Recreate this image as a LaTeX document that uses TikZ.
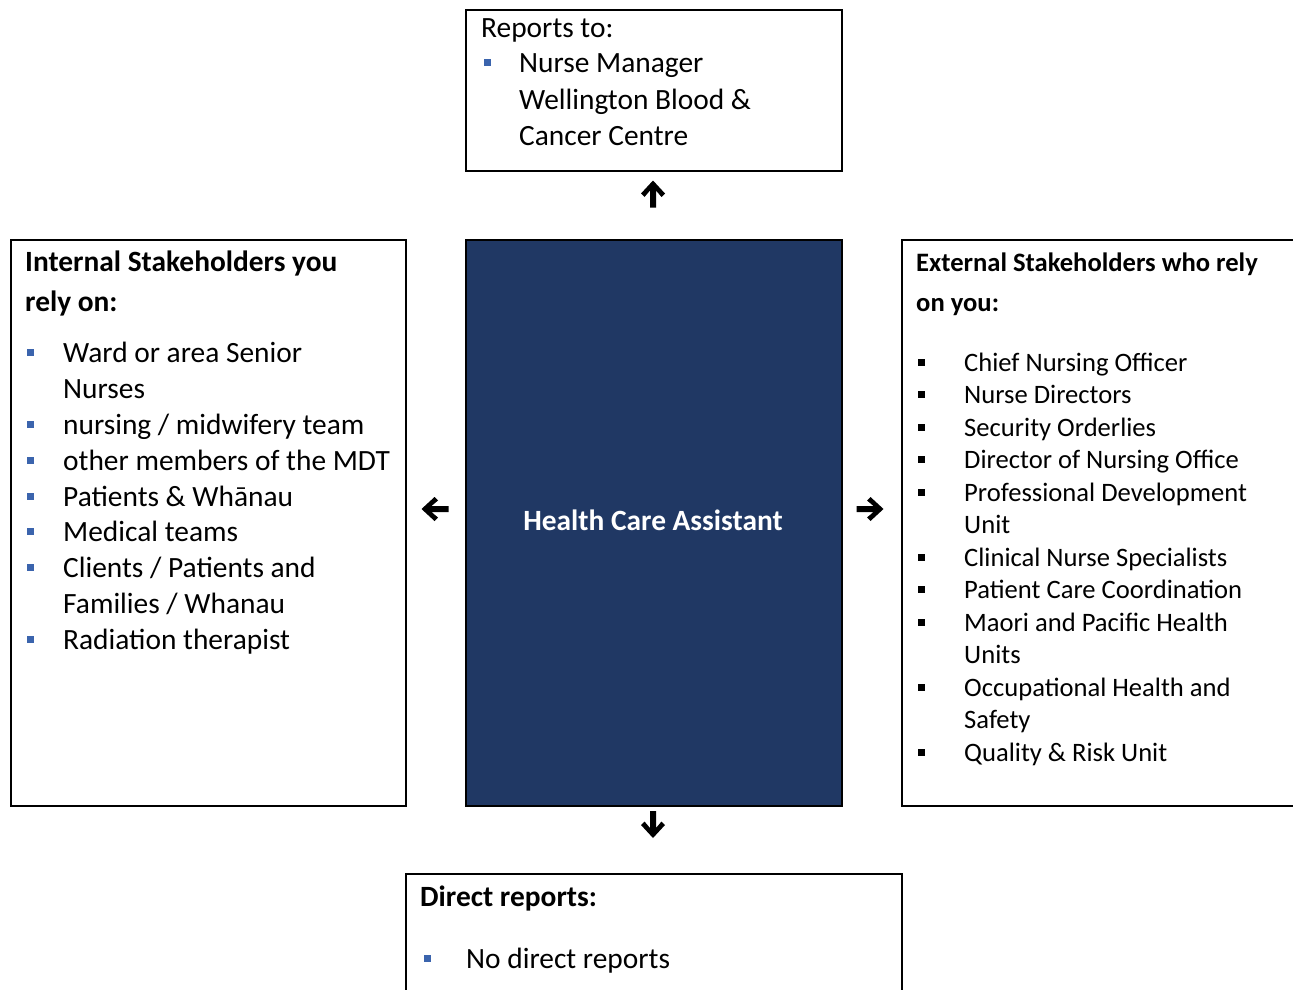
\documentclass[tikz,border=0pt]{standalone}
\usepackage{fontspec}
\setmainfont{Carlito}
\definecolor{navy}{HTML}{203864}
\definecolor{bltblue}{HTML}{3B64AD}
\begin{document}
\begin{tikzpicture}[x=1pt,y=-1pt,
  box/.style={draw=black, line width=2pt, rectangle, inner sep=0pt, anchor=north west},
  txt/.style={anchor=base west, inner sep=0pt, font=\fontsize{29.4}{36}\selectfont},
  txb/.style={anchor=base west, inner sep=0pt, font=\fontsize{29.4}{36}\selectfont\bfseries},
  txs/.style={anchor=base west, inner sep=0pt, font=\fontsize{26.6}{32}\selectfont},
  txsb/.style={anchor=base west, inner sep=0pt, font=\fontsize{26.6}{32}\selectfont\bfseries},
  bltb/.style={fill=bltblue, draw=none, rectangle, minimum size=7pt, inner sep=0pt},
  bltk/.style={fill=black, draw=none, rectangle, minimum size=7pt, inner sep=0pt},
  barrow/.pic={\fill[black] (13.5,0) -- (0.5,12) -- (-3,8.5) -- (3.5,3) -- (-13.5,3) -- (-13.5,-3) -- (3.5,-3) -- (-3,-8.5) -- (0.5,-12) -- cycle;}
]
\useasboundingbox (0,0) rectangle (1293,990);
\clip (0,0) rectangle (1293,990);

% boxes
\node[box, minimum width=376, minimum height=160] (top) at (465,9.5) {};
\node[box, minimum width=395, minimum height=566] (left) at (9.5,238.5) {};
\node[box, fill=navy, minimum width=376, minimum height=566] (center) at (465,238.5) {};
\node[box, minimum width=420, minimum height=566] (right) at (900.5,238.5) {};
\node[box, minimum width=496, minimum height=140] (bottom) at (405,873) {};

% top box
\node[txt] (t0) at (481,38) {Reports to:};
\node[bltb] (tb1) at (487,63) {};
\node[txt] (t1) at (519,73) {Nurse Manager};
\node[txt] (t2) at (519,109) {Wellington Blood \&};
\node[txt] (t3) at (519,145) {Cancer Centre};

% center
\node[anchor=base, inner sep=0pt, text=white, font=\fontsize{29.4}{36}\selectfont\bfseries] (c0) at (653,530) {Health Care Assistant};

% left box
\node[txb] (l0) at (25,271) {Internal Stakeholders you};
\node[txb] (l00) at (25,311) {rely on:};
\node[bltb] (lb1) at (30.5,352) {};
\node[txt] (l1) at (63,362) {Ward or area Senior};
\node[txt] (l1b) at (63,398) {Nurses};
\node[bltb] (lb2) at (30.5,424) {};
\node[txt] (l2) at (63,434) {nursing / midwifery team};
\node[bltb] (lb3) at (30.5,460) {};
\node[txt] (l3) at (63,470) {other members of the MDT};
\node[bltb] (lb4) at (30.5,496) {};
\node[txt] (l4) at (63,506) {Patients \& Whānau};
\node[bltb] (lb5) at (30.5,531) {};
\node[txt] (l5) at (63,541) {Medical teams};
\node[bltb] (lb6) at (30.5,567) {};
\node[txt] (l6) at (63,577) {Clients / Patients and};
\node[txt] (l6b) at (63,613) {Families / Whanau};
\node[bltb] (lb7) at (30.5,639) {};
\node[txt] (l7) at (63,649) {Radiation therapist};

% right box
\node[txsb] (r0) at (916,271) {External Stakeholders who rely};
\node[txsb] (r00) at (916,311) {on you:};
\node[bltk] (rb1) at (921.5,362) {};
\node[txs] (r1) at (964,371) {Chief Nursing Officer};
\node[bltk] (rb2) at (921.5,394.5) {};
\node[txs] (r2) at (964,403.5) {Nurse Directors};
\node[bltk] (rb3) at (921.5,427) {};
\node[txs] (r3) at (964,436) {Security Orderlies};
\node[bltk] (rb4) at (921.5,459.5) {};
\node[txs] (r4) at (964,468.5) {Director of Nursing Office};
\node[bltk] (rb5) at (921.5,492) {};
\node[txs] (r5) at (964,501) {Professional Development};
\node[txs] (r5b) at (964,533.5) {Unit};
\node[bltk] (rb6) at (921.5,557) {};
\node[txs] (r6) at (964,566) {Clinical Nurse Specialists};
\node[bltk] (rb7) at (921.5,589.5) {};
\node[txs] (r7) at (964,598.5) {Patient Care Coordination};
\node[bltk] (rb8) at (921.5,622) {};
\node[txs] (r8) at (964,631) {Maori and Pacific Health};
\node[txs] (r8b) at (964,663.5) {Units};
\node[bltk] (rb9) at (921.5,687) {};
\node[txs] (r9) at (964,696) {Occupational Health and};
\node[txs] (r9b) at (964,728.5) {Safety};
\node[bltk] (rb10) at (921.5,752) {};
\node[txs] (r10) at (964,761) {Quality \& Risk Unit};

% bottom box
\node[txb] (d0) at (420,906) {Direct reports:};
\node[bltb] (db1) at (427,958) {};
\node[txt] (d1) at (466,968) {No direct reports};

% arrows
\pic[rotate=90] at (653,194) {barrow};
\pic[rotate=-90] at (653,824.5) {barrow};
\pic[rotate=180] at (435,509) {barrow};
\pic at (870,509) {barrow};
\end{tikzpicture}
\end{document}
